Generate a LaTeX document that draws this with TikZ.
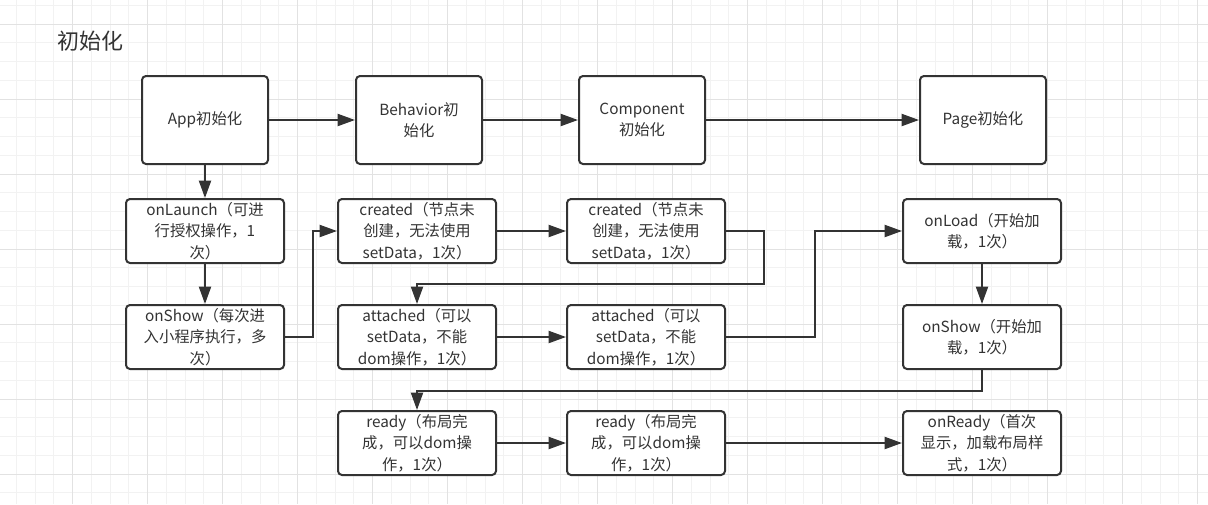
\documentclass[tikz,border=0pt]{standalone}
\usepackage{fontspec}
\setmainfont{Noto Sans CJK SC}
\usepackage{tikz}
\usetikzlibrary{arrows.meta}
\definecolor{ink}{HTML}{333333}
\definecolor{gridminor}{HTML}{F2F2F2}
\definecolor{gridmajor}{HTML}{E2E2E2}

\begin{document}
\begin{tikzpicture}[x=0.75pt, y=-0.75pt,
    box/.style={draw=ink, line width=1.5pt, rounded corners=3pt, fill=white, text=ink,
      align=center, inner sep=0pt, font=\fontsize{11.5pt}{16pt}\selectfont},
    bigbox/.style={box, minimum width=94.5pt, minimum height=66pt},
    smallbox/.style={box, minimum width=118.5pt, minimum height=48pt},
    arr/.style={draw=ink, line width=1.5pt, -{Triangle[length=13pt, width=9pt]}}]
  \useasboundingbox (0,0) rectangle (1208,504);
  \fill[white] (0,0) rectangle (1208,504);

  \foreach \i in {1,2,...,64}
    \draw[gridminor, line width=0.75pt] ({-2.3+18.75*\i},0) -- ++(0,504);
  \foreach \j in {0,1,...,26}
    \draw[gridminor, line width=0.75pt] (0,{5.25+18.75*\j}) -- ++(1208,0);
  \foreach \i in {1,2,...,16}
    \draw[gridmajor, line width=0.75pt] ({-2.3+75*\i},0) -- ++(0,504);
  \foreach \j in {0,1,...,6}
    \draw[gridmajor, line width=0.75pt] (0,{24+75*\j}) -- ++(1208,0);

  \node[text=ink, font=\fontsize{16.5pt}{18pt}\selectfont] (title) at (90,41) {初始化};

  \node[bigbox] (app) at (205,120) {App初始化};
  \node[bigbox] (beh) at (419,120) {Behavior初\\始化};
  \node[bigbox] (comp) at (642,120) {Component\\初始化};
  \node[bigbox] (page) at (983,120) {Page初始化};

  \node[smallbox] (launch) at (205,231) {onLaunch（可进\\行授权操作，1\\次）};
  \node[smallbox] (showA) at (205,337) {onShow（每次进\\入小程序执行，多\\次）};

  \foreach \x/\n in {417/B, 646/C} {
    \node[smallbox] (crt\n) at (\x,231) {created（节点未\\创建，无法使用\\setData，1次）};
    \node[smallbox] (att\n) at (\x,337) {attached（可以\\setData，不能\\dom操作，1次）};
    \node[smallbox] (rdy\n) at (\x,443) {ready（布局完\\成，可以dom操\\作，1次）};
  }

  \node[smallbox] (load) at (982,231) {onLoad（开始加\\载，1次）};
  \node[smallbox] (showP) at (982,337) {onShow（开始加\\载，1次）};
  \node[smallbox] (onrdy) at (982,443) {onReady（首次\\显示，加载布局样\\式，1次）};

  \draw[arr] (app) -- (beh);
  \draw[arr] (beh) -- (comp);
  \draw[arr] (comp) -- (page);
  \draw[arr] (app) -- (launch);
  \draw[arr] (launch) -- (showA);
  \draw[arr] (showA.east) -- ++(28,0) |- (crtB.west);
  \draw[arr] (crtB) -- (crtC);
  \draw[arr] (crtC.east) -- ++(38,0) -- ++(0,53) -| (attB.north);
  \draw[arr] (attB) -- (attC);
  \draw[arr] (attC.east) -- ++(89,0) |- (load.west);
  \draw[arr] (load) -- (showP);
  \draw[arr] (showP.south) -- ++(0,21) -| (rdyB.north);
  \draw[arr] (rdyB) -- (rdyC);
  \draw[arr] (rdyC) -- (onrdy);
\end{tikzpicture}
\end{document}
